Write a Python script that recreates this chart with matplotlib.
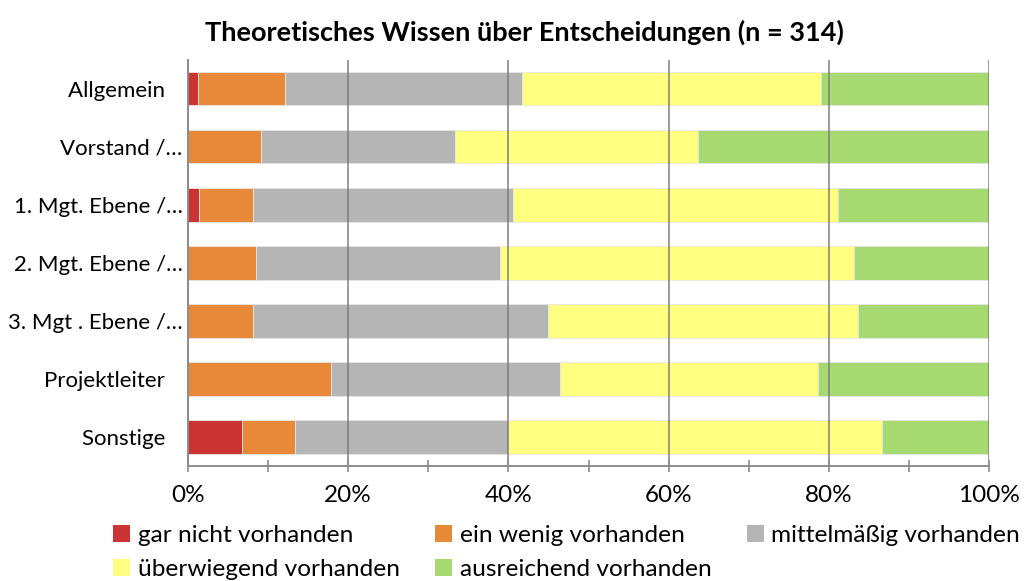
import matplotlib.pyplot as plt
import numpy as np
from matplotlib.patches import Patch
from matplotlib.ticker import MultipleLocator, PercentFormatter

plt.rcParams['font.family'] = ['Lato', 'DejaVu Sans']

# ------------------------------------------------------------------ #
# Data (percent shares per group)
# ------------------------------------------------------------------ #
categories = ['Allgemein', 'Vorstand /…', '1. Mgt. Ebene /…', '2. Mgt. Ebene /…',
              '3. Mgt . Ebene /…', 'Projektleiter', 'Sonstige']

gar_nicht   = [1.25, 0.0, 1.4, 0.0, 0.0, 0.0, 6.7]
ein_wenig   = [10.85, 9.1, 6.7, 8.5, 8.1, 17.85, 6.7]
mittelmaess = [29.6, 24.2, 32.5, 30.5, 36.8, 28.55, 26.6]
ueberwiegend = [37.3, 30.4, 40.5, 44.1, 38.8, 32.2, 46.7]
ausreichend = [21.0, 36.3, 18.9, 16.9, 16.3, 21.4, 13.3]

series_labels = ['gar nicht vorhanden', 'ein wenig vorhanden', 'mittelmäßig vorhanden',
                 'überwiegend vorhanden', 'ausreichend vorhanden']
series_colors = ['#CC3333', '#E8893A', '#B5B5B5', '#FFFF80', '#A6D96F']

title = 'Theoretisches Wissen über Entscheidungen (n = 314)'

# ------------------------------------------------------------------ #
# Plot
# ------------------------------------------------------------------ #
fig = plt.figure(figsize=(10.24, 5.81), dpi=100)
ax = fig.add_axes([188 / 1024, 1 - 466 / 581, 801 / 1024, 406.5 / 581])

y = np.arange(len(categories))
left = np.zeros(len(categories))
series = [gar_nicht, ein_wenig, mittelmaess, ueberwiegend, ausreichend]
for vals, lab, col in zip(series, series_labels, series_colors):
    vals = np.array(vals)
    ax.barh(y, vals, left=left, height=0.58, color=col, label=lab,
            edgecolor='#e6e6e6', linewidth=0.6, zorder=2)
    left += vals

ax.set_xlim(0, 100)
ax.set_ylim(len(categories) - 0.5, -0.5)
ax.xaxis.set_major_locator(MultipleLocator(20))
ax.xaxis.set_minor_locator(MultipleLocator(10))
ax.xaxis.set_major_formatter(PercentFormatter(decimals=0))
ax.set_yticks(y)
ax.set_yticklabels([c if c.endswith('…') else c + '   ' for c in categories])

ax.grid(axis='x', which='major', color='#7a7a7a', alpha=0.75, linewidth=1.4, zorder=3)
ax.set_axisbelow(False)
for s in ['top', 'right']:
    ax.spines[s].set_visible(False)
for s in ['left', 'bottom']:
    ax.spines[s].set_color('#8c8c8c')
    ax.spines[s].set_linewidth(1.4)
    ax.spines[s].set_zorder(4)

ax.tick_params(axis='x', which='both', direction='inout', length=9, width=1.2,
               color='#8c8c8c', labelsize=17.5, pad=9)
ax.tick_params(axis='y', length=0, labelsize=16, pad=4)

fig.text(0.512, 0.945, title, ha='center', va='center', fontsize=19.5, fontweight='bold')

handles = [Patch(facecolor=c, edgecolor='none') for c in series_colors]
order = [0, 3, 1, 4, 2]
fig.legend([handles[i] for i in order], [series_labels[i] for i in order],
           loc='upper left', bbox_to_anchor=(101 / 1024, 1 - 513 / 581),
           ncol=3, frameon=False, fontsize=17.6, handlelength=0.7, handleheight=0.7,
           handletextpad=0.3, columnspacing=1.45, labelspacing=0.5, borderpad=0)

fig.savefig('out.png', dpi=100)
